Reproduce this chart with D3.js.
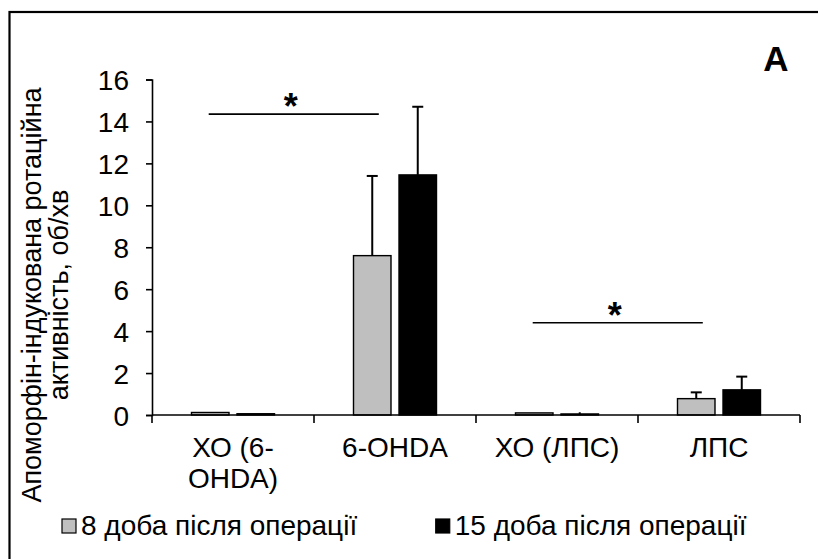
<!DOCTYPE html>
<html>
<head>
<meta charset="utf-8">
<script src="https://cdn.jsdelivr.net/npm/d3@7/dist/d3.min.js"></script>
<style>
  html, body { margin: 0; padding: 0; background: #fff; }
  svg { display: block; }
  text { font-family: "Liberation Sans", Arial, sans-serif; fill: #000; }
</style>
</head>
<body>
<svg id="chart" width="818" height="559"></svg>
<script>
// Groups along the x axis and how each label wraps
const categories = ["ХО (6-OHDA)", "6-OHDA", "ХО (ЛПС)", "ЛПС"];
const categoryLines = [["ХО (6-", "OHDA)"], ["6-OHDA"], ["ХО (ЛПС)"], ["ЛПС"]];

// Series: mean rotations per minute and their upper error (SD)
const seriesNames = ["8 доба після операції", "15 доба після операції"];
const day8 = [0.12, 7.6, 0.1, 0.78];
const day8Err = [0, 3.8, 0, 0.3];
const day15 = [0.06, 11.45, 0.05, 1.2];
const day15Err = [0, 3.25, 0.08, 0.63];
const seriesColors = ["#bfbfbf", "#000000"];

const yTicks = [0, 2, 4, 6, 8, 10, 12, 14, 16];
const yTitleLines = ["Апоморфін-індукована ротаційна", "активність, об/хв"];
const panelLetter = "A";

// Significance brackets: group span and height (in axis units)
const sigFrom = [0, 2];
const sigTo = [1, 3];
const sigLevel = [14.35, 4.4];

const svg = d3.select("#chart");
const W = 818, H = 559;
const plot = { left: 152, right: 800, top: 79.5, bottom: 415 };
const FONT = 28;

svg.append("rect").attr("width", W).attr("height", H).attr("fill", "#fff");

// outer frame of the chart area
svg.append("rect")
  .attr("x", 9.5).attr("y", 12).attr("width", 840).attr("height", 580)
  .attr("fill", "none").attr("stroke", "#000").attr("stroke-width", 2.2);

const x = d3.scaleBand().domain(categories).range([plot.left, plot.right]).padding(0);
const inner = d3.scaleBand().domain(seriesNames)
  .range([39.5, x.bandwidth() - 39.5]).paddingInner(0.176).paddingOuter(0);
const y = d3.scaleLinear().domain([0, 16]).range([plot.bottom, plot.top]);

// y axis
const yAxis = d3.axisLeft(y).tickValues(yTicks).tickSize(6).tickPadding(17);
const gy = svg.append("g").attr("transform", `translate(${plot.left},0)`).call(yAxis);
gy.select(".domain").attr("stroke", "#000").attr("stroke-width", 1.6);
gy.selectAll(".tick line").attr("stroke", "#000").attr("stroke-width", 1.6);
gy.selectAll(".tick text")
  .attr("font-size", FONT).attr("font-family", "Liberation Sans, Arial, sans-serif")
  .attr("fill", "#000").attr("dy", "0.36em");

// bars
const series = [
  { name: seriesNames[0], values: day8, errs: day8Err, color: seriesColors[0] },
  { name: seriesNames[1], values: day15, errs: day15Err, color: seriesColors[1] }
];

const groups = svg.append("g");
series.forEach(s => {
  const g = groups.append("g");
  g.selectAll("rect").data(categories).join("rect")
    .attr("x", (c) => x(c) + inner(s.name))
    .attr("width", inner.bandwidth())
    .attr("y", (c, i) => y(s.values[i]))
    .attr("height", (c, i) => y(0) - y(s.values[i]))
    .attr("fill", s.color)
    .attr("stroke", "#000").attr("stroke-width", 1.4);

  // upper error whiskers
  categories.forEach((c, i) => {
    if (!s.errs[i]) return;
    const cx = x(c) + inner(s.name) + inner.bandwidth() / 2;
    const y0 = y(s.values[i]), y1 = y(s.values[i] + s.errs[i]);
    const cap = s.errs[i] < 0.2 ? 0 : 5.5;
    g.append("line").attr("x1", cx).attr("x2", cx).attr("y1", y0).attr("y2", y1)
      .attr("stroke", "#000").attr("stroke-width", 2);
    if (cap) {
      g.append("line").attr("x1", cx - cap).attr("x2", cx + cap).attr("y1", y1).attr("y2", y1)
        .attr("stroke", "#000").attr("stroke-width", 2);
    }
  });
});

// x axis (drawn over the bar bases)
const gx = svg.append("g").attr("transform", `translate(0,${plot.bottom})`);
gx.append("line").attr("x1", plot.left).attr("x2", plot.right)
  .attr("stroke", "#000").attr("stroke-width", 1.6);
const bounds = categories.map(c => x(c)).concat([plot.right]);
gx.selectAll("line.tick").data(bounds).join("line").attr("class", "tick")
  .attr("x1", d => d).attr("x2", d => d).attr("y1", 0).attr("y2", 8)
  .attr("stroke", "#000").attr("stroke-width", 1.6);

categories.forEach((c, i) => {
  const t = gx.append("text").attr("text-anchor", "middle")
    .attr("font-size", FONT).attr("x", x(c) + x.bandwidth() / 2).attr("y", 42);
  categoryLines[i].forEach((ln, k) => {
    t.append("tspan").attr("x", x(c) + x.bandwidth() / 2).attr("dy", k === 0 ? 0 : 31).text(ln);
  });
});

// y axis title, two centred lines
const yt = svg.append("text").attr("text-anchor", "middle").attr("font-size", 27)
  .attr("transform", "translate(41,295) rotate(-90)");
yTitleLines.forEach((ln, k) => {
  yt.append("tspan").attr("x", 0).attr("dy", k === 0 ? 0 : 27).text(ln);
});

// significance brackets
sigFrom.forEach((f, i) => {
  const x0 = x(categories[f]) + x.bandwidth() * 0.35;
  const x1 = x(categories[sigTo[i]]) + x.bandwidth() * 0.4;
  const yy = y(sigLevel[i]);
  svg.append("line").attr("x1", x0).attr("x2", x1).attr("y1", yy).attr("y2", yy)
    .attr("stroke", "#000").attr("stroke-width", 1.6);
  svg.append("text").attr("text-anchor", "middle").attr("font-size", 36).attr("font-weight", "bold")
    .attr("x", (x0 + x1) / 2 - 3).attr("y", yy + 5).text("*");
});

// panel letter
svg.append("text").attr("x", 776).attr("y", 71).attr("text-anchor", "middle")
  .attr("font-size", 35).attr("font-weight", "bold").text(panelLetter);

// legend: equal-width columns, one per series
const leg = svg.append("g").attr("transform", "translate(0,535)");
const legendTexts = [];
series.forEach((s, i) => {
  const t = leg.append("text").attr("y", 0).attr("font-size", FONT).text(s.name);
  legendTexts.push(t);
});
const colWidth = d3.max(legendTexts, t => t.node().getComputedTextLength()) + 19 + 63;
series.forEach((s, i) => {
  const lx = 62 + i * colWidth;
  leg.append("rect").attr("x", lx).attr("y", -16).attr("width", 14).attr("height", 14)
    .attr("fill", s.color).attr("stroke", "#000").attr("stroke-width", 1.2);
  legendTexts[i].attr("x", lx + 19);
});
</script>
</body>
</html>
